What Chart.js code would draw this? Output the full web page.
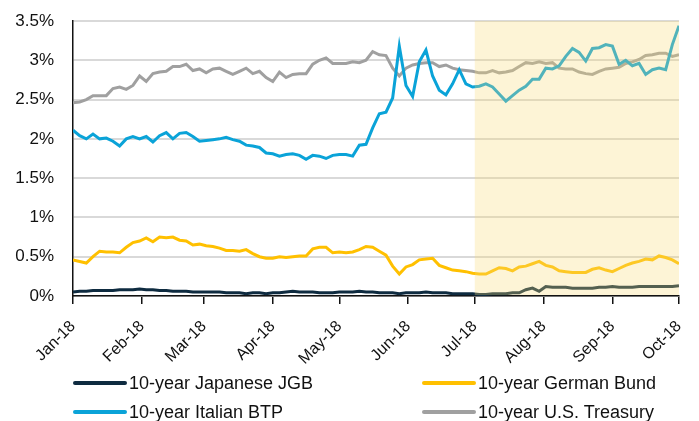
<!DOCTYPE html>
<html>
<head>
<meta charset="utf-8">
<script src="https://cdn.jsdelivr.net/npm/chart.js@4.4.0/dist/chart.umd.min.js"></script>
<style>
  html, body { margin: 0; padding: 0; background: #fff; }
  #wrap { position: relative; width: 699px; height: 421px; }
  #legend { position: absolute; left: 0; top: 0; width: 699px; height: 421px; pointer-events: none;
    font-family: "Liberation Sans", Arial, sans-serif; font-size: 18px; color: #111; }
  .item { position: absolute; white-space: nowrap; line-height: 20px; }
  .swatch { display: inline-block; width: 54px; height: 4px; border-radius: 2px; vertical-align: middle; margin-right: 2px; position: relative; top: -1px; }
</style>
</head>
<body>
<div id="wrap">
  <canvas id="chart" width="699" height="421"></canvas>
  <div id="legend"></div>
</div>
<script>
// dias desde 1 jan 2018
const days = [
  0, 3, 6, 9, 12, 15, 18, 21, 24, 27,
  30, 33, 36, 39, 42, 45, 48, 51, 54, 57,
  60, 63, 66, 69, 72, 75, 78, 81, 84, 87,
  90, 93, 96, 99, 102, 105, 108, 111, 114, 117,
  120, 123, 126, 129, 132, 135, 138, 141, 144, 147,
  150, 153, 156, 159, 162, 165, 168, 171, 174, 177,
  180, 183, 186, 189, 192, 195, 198, 201, 204, 207,
  210, 213, 216, 219, 222, 225, 228, 231, 234, 237,
  240, 243, 246, 249, 252, 255, 258, 261, 264, 267,
  270, 273,
];

const jgb = [
  0.05, 0.06, 0.06, 0.07, 0.07, 0.07, 0.07, 0.08, 0.08, 0.08,
  0.09, 0.08, 0.08, 0.07, 0.07, 0.06, 0.06, 0.06, 0.05, 0.05,
  0.05, 0.05, 0.05, 0.04, 0.04, 0.04, 0.03, 0.04, 0.04, 0.03,
  0.04, 0.04, 0.05, 0.06, 0.05, 0.05, 0.05, 0.04, 0.04, 0.04,
  0.05, 0.05, 0.05, 0.06, 0.05, 0.05, 0.04, 0.04, 0.04, 0.03,
  0.04, 0.04, 0.04, 0.05, 0.04, 0.04, 0.04, 0.03, 0.03, 0.03,
  0.03, 0.02, 0.02, 0.03, 0.03, 0.03, 0.04, 0.04, 0.08, 0.10,
  0.06, 0.12, 0.11, 0.11, 0.11, 0.10, 0.10, 0.10, 0.10, 0.11,
  0.11, 0.12, 0.11, 0.11, 0.11, 0.12, 0.12, 0.12, 0.12, 0.12,
  0.12, 0.13,
];

const bund = [
  0.46, 0.44, 0.42, 0.50, 0.57, 0.56, 0.56, 0.55, 0.62, 0.68,
  0.70, 0.74, 0.69, 0.75, 0.74, 0.75, 0.71, 0.70, 0.65, 0.66,
  0.64, 0.63, 0.61, 0.58, 0.58, 0.57, 0.59, 0.54, 0.50, 0.48,
  0.48, 0.50, 0.49, 0.50, 0.51, 0.51, 0.60, 0.62, 0.62, 0.55,
  0.56, 0.55, 0.56, 0.59, 0.63, 0.62, 0.57, 0.52, 0.38, 0.28,
  0.37, 0.40, 0.46, 0.47, 0.48, 0.39, 0.36, 0.33, 0.32, 0.31,
  0.29, 0.28, 0.28, 0.32, 0.36, 0.35, 0.32, 0.37, 0.38, 0.41,
  0.44, 0.39, 0.37, 0.32, 0.31, 0.30, 0.30, 0.30, 0.34, 0.36,
  0.33, 0.31, 0.35, 0.39, 0.42, 0.44, 0.47, 0.46, 0.51, 0.49,
  0.46, 0.41,
];

const btp = [
  2.11, 2.04, 2.00, 2.06, 2.00, 2.01, 1.97, 1.91, 2.00, 2.03,
  2.00, 2.03, 1.96, 2.04, 2.08, 2.00, 2.07, 2.08, 2.03, 1.97,
  1.98, 1.99, 2.00, 2.02, 1.99, 1.97, 1.92, 1.91, 1.89, 1.82,
  1.81, 1.78, 1.80, 1.81, 1.79, 1.74, 1.79, 1.78, 1.75, 1.79,
  1.80, 1.80, 1.78, 1.92, 1.93, 2.14, 2.32, 2.34, 2.52, 3.18,
  2.68, 2.54, 2.98, 3.13, 2.80, 2.62, 2.56, 2.70, 2.88, 2.70,
  2.66, 2.67, 2.70, 2.66, 2.57, 2.48, 2.55, 2.62, 2.67, 2.76,
  2.76, 2.90, 2.89, 2.93, 3.05, 3.15, 3.10, 2.99, 3.15, 3.16,
  3.20, 3.18, 2.95, 3.00, 2.93, 2.96, 2.82, 2.88, 2.90, 2.88,
  3.20, 3.44,
];

const ust = [
  2.46, 2.47, 2.50, 2.55, 2.55, 2.55, 2.64, 2.66, 2.63, 2.68,
  2.80, 2.73, 2.83, 2.85, 2.86, 2.92, 2.92, 2.95, 2.87, 2.89,
  2.84, 2.89, 2.90, 2.86, 2.82, 2.86, 2.90, 2.83, 2.86, 2.78,
  2.73, 2.85, 2.78, 2.82, 2.83, 2.83, 2.95, 3.00, 3.03, 2.96,
  2.96, 2.96, 2.98, 2.97, 3.00, 3.11, 3.07, 3.06, 2.90, 2.80,
  2.90, 2.94, 2.96, 2.97, 2.97, 2.92, 2.94, 2.90, 2.88, 2.87,
  2.86, 2.84, 2.84, 2.87, 2.84, 2.85, 2.87, 2.92, 2.97, 2.96,
  2.98, 2.96, 2.97, 2.90, 2.89, 2.89, 2.85, 2.83, 2.82, 2.86,
  2.89, 2.90, 2.91, 2.96, 2.98, 3.01, 3.06, 3.07, 3.09, 3.09,
  3.05, 3.07,
];

const monthDays = [0, 31, 59, 90, 120, 151, 181, 212, 243, 273];
const monthLabels = ["Jan-18", "Feb-18", "Mar-18", "Apr-18", "May-18", "Jun-18", "Jul-18", "Aug-18", "Sep-18", "Oct-18"];
const yTicks = [0, 0.5, 1, 1.5, 2, 2.5, 3, 3.5];

// faixa destacada (jul a out)
const shadeFrom = 181;
const shadeTo = 273;

const seriesNames = ["10-year Japanese JGB", "10-year German Bund", "10-year Italian BTP", "10-year U.S. Treasury"];
const seriesColors = ["#0e2b40", "#ffc000", "#0aa3d8", "#a0a0a0"];
const seriesValues = [jgb, bund, btp, ust];

const fontFamily = '"Liberation Sans", Arial, sans-serif';

const shadePlugin = {
  id: "shade",
  afterDatasetsDraw(chart) {
    const { ctx, chartArea, scales } = chart;
    const x1 = scales.x.getPixelForValue(shadeFrom);
    const x2 = scales.x.getPixelForValue(shadeTo);
    ctx.save();
    ctx.fillStyle = "rgba(250, 220, 120, 0.3)";
    ctx.fillRect(x1, chartArea.top, x2 - x1, chartArea.bottom - chartArea.top - 1);
    ctx.restore();
  },
};

const datasets = seriesValues.map((vals, i) => ({
  label: seriesNames[i],
  data: days.map((d, j) => ({ x: d, y: vals[j] })),
  borderColor: seriesColors[i],
  backgroundColor: seriesColors[i],
  borderWidth: 3,
  pointRadius: 0,
  tension: 0,
  fill: false,
}));

new Chart(document.getElementById("chart"), {
  type: "line",
  data: { datasets: datasets },
  options: {
    responsive: false,
    animation: false,
    layout: { padding: { top: 21, right: 20, left: 0, bottom: 56 } },
    plugins: { legend: { display: false }, tooltip: { enabled: false } },
    scales: {
      x: {
        type: "linear",
        min: 0,
        max: 273,
        afterBuildTicks: (scale) => {
          scale.ticks = monthDays.map((v) => ({ value: v }));
        },
        afterFit: (scale) => {
          scale.height = 69;
          scale.paddingLeft = 0;
          scale.paddingRight = 0;
        },
        ticks: {
          autoSkip: false,
          minRotation: 45,
          maxRotation: 45,
          padding: 13,
          color: "#111",
          font: { family: fontFamily, size: 16 },
          callback: (v) => monthLabels[monthDays.indexOf(v)],
        },
        grid: {
          drawOnChartArea: false,
          drawTicks: true,
          tickLength: 8,
          tickColor: "#111",
          lineWidth: 1.5,
        },
        border: { color: "#111", width: 1.5 },
      },
      y: {
        min: 0,
        max: 3.5,
        afterBuildTicks: (scale) => {
          scale.ticks = yTicks.map((v) => ({ value: v }));
        },
        afterFit: (scale) => {
          scale.width = 73;
          scale.paddingTop = 0;
          scale.paddingBottom = 0;
        },
        ticks: {
          padding: 19,
          color: "#111",
          font: { family: fontFamily, size: 17 },
          callback: (v) => v + "%",
        },
        grid: { color: "#d9d9d9", lineWidth: 2, drawTicks: false },
        border: { color: "#111", width: 1.5 },
      },
    },
  },
  plugins: [shadePlugin],
});

// legenda em duas colunas
const legendPos = [
  [73, 373],
  [422, 373],
  [73, 402],
  [422, 402],
];
const legend = document.getElementById("legend");
seriesNames.forEach((name, i) => {
  const item = document.createElement("div");
  item.className = "item";
  item.style.left = legendPos[i][0] + "px";
  item.style.top = legendPos[i][1] + "px";
  item.innerHTML = '<span class="swatch" style="background:' + seriesColors[i] + '"></span>' + name;
  legend.appendChild(item);
});
</script>
</body>
</html>
